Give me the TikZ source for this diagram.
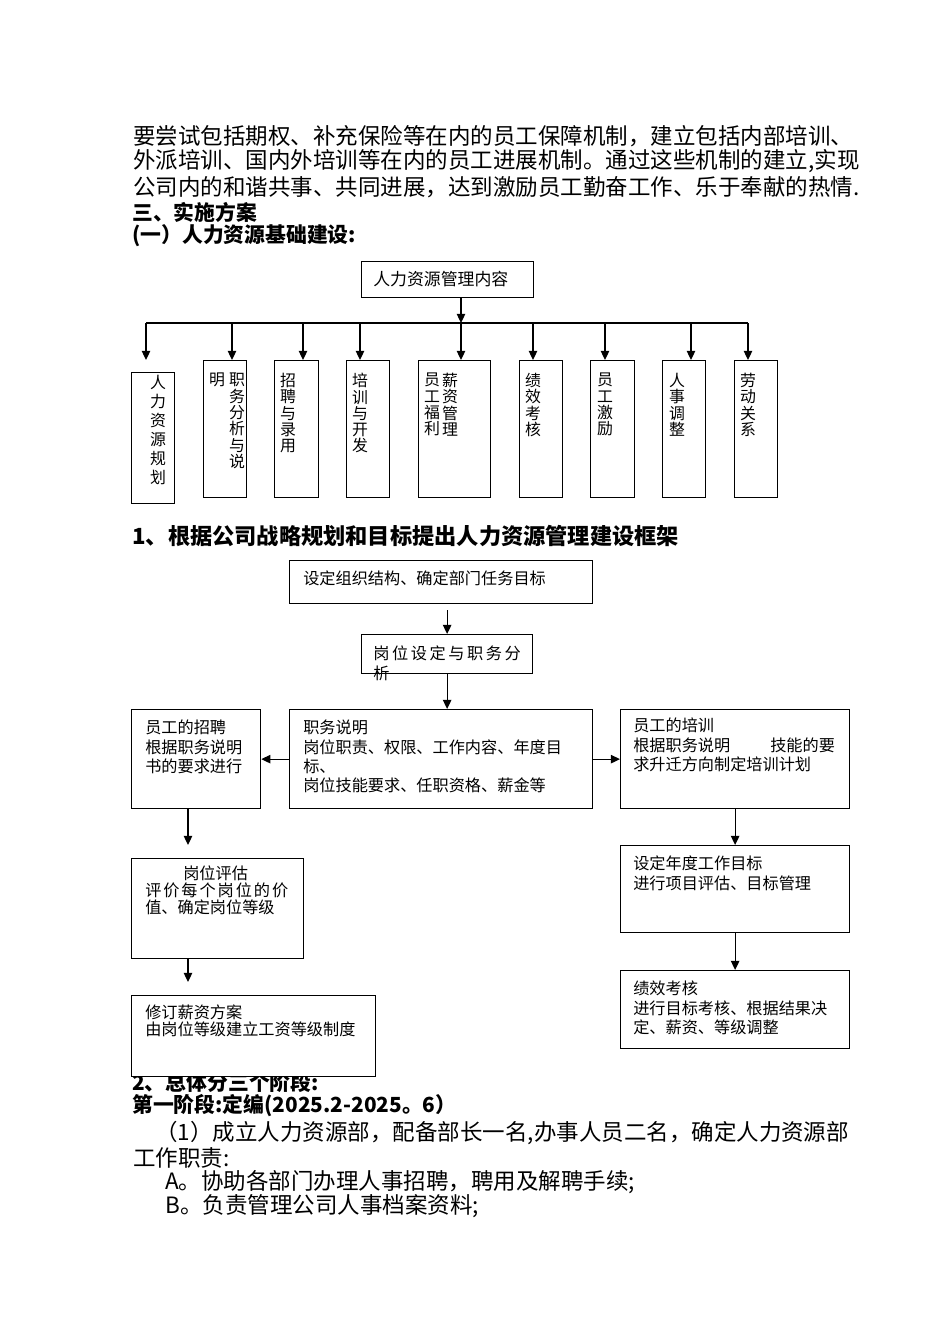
\documentclass[tikz,border=0pt]{standalone}
\usepackage{fontspec}
\setmainfont{Noto Sans CJK SC}
\usetikzlibrary{arrows.meta}
\newlength{\pxu}
\setlength{\pxu}{0.025cm}

\begin{document}
\begin{tikzpicture}[x=0.025cm, y=-0.025cm,
    box/.style={draw, line width=0.9pt, inner sep=0pt, anchor=north west},
    txt/.style={inner sep=0pt, anchor=north west, align=left, font=\fontsize{11.5}{13.7}\selectfont},
    vtxt/.style={inner sep=0pt, anchor=north, align=center, font=\fontsize{11.3}{11.6}\selectfont},
    body/.style={inner sep=0pt, anchor=west, font=\fontsize{16}{16}\selectfont},
    head/.style={inner sep=0pt, anchor=west, font=\fontsize{14.8}{15}\selectfont\bfseries},
    arr/.style={line width=0.9pt, -{Triangle[length=6.5pt, width=6pt]}}]
    \fill[white] (0,0) rectangle (950,1344);
    \useasboundingbox (0,0) rectangle (950,1344);
    % Text above
    \node[body] (l1) at (133,136) {要尝试包括期权、补充保险等在内的员工保障机制，建立包括内部培训、};
    \node[body] (l2) at (133,161) {外派培训、国内外培训等在内的员工进展机制。通过这些机制的建立,实现};
    \node[body] (l3) at (133,187) {公司内的和谐共事、共同进展，达到激励员工勤奋工作、乐于奉献的热情.};
    \node[head] (h1) at (132,212) {三、实施方案};
    \node[head] (h2) at (132,236) {(一）人力资源基础建设:};
    % Top box and bus
    \node[box, minimum width=172\pxu, minimum height=36\pxu] (rl) at (361,261) {};
    \node[txt, anchor=west, font=\fontsize{12}{14}\selectfont] (rltx) at (373,279) {人力资源管理内容};
    \coordinate (hub) at (461,323);
    \coordinate (bl) at (146,323);
    \coordinate (br) at (748,323);
    \draw[line width=0.9pt] (bl) -- (br);
    \draw[arr] (rl.south -| hub) -- (hub);
    % Column boxes
    \node[box, minimum width=43\pxu, minimum height=131\pxu] (gh) at (131,372) {};
    \foreach \bx/\bw/\nm in {203/43/zw, 274/44/zp, 346/43/px, 418/72/xz, 519/43/jx, 590/44/jl, 662/43/tz, 734/43/gx}
        \node[box, minimum width=\bw\pxu, minimum height=137\pxu] (\nm) at (\bx,360) {};
    \foreach \ax/\nm in {146/gh, 232/zw, 303/zp, 360/px, 461/xz, 533/jx, 605/jl, 691/tz, 748/gx} {
        \coordinate (b-\nm) at (\ax,323);
        \draw[arr] (b-\nm) -- (b-\nm |- zw.north);
    }
    \node[vtxt, font=\fontsize{11.3}{13.5}\selectfont] (ghtx) at (158,375) {人\\力\\资\\源\\规\\划};
    \node[vtxt] (zwtx) at (237,373) {职\\务\\分\\析\\与\\说};
    \node[vtxt] (zwtx2) at (217,373) {明};
    \node[vtxt] (zptx) at (288,373) {招\\聘\\与\\录\\用};
    \node[vtxt] (pxtx) at (360,373) {培\\训\\与\\开\\发};
    \node[vtxt] (xztx) at (450,373) {薪\\资\\管\\理};
    \node[vtxt] (xztx2) at (432,373) {员\\工\\福\\利};
    \node[vtxt] (jxtx) at (533,373) {绩\\效\\考\\核};
    \node[vtxt] (jltx) at (605,373) {员\\工\\激\\励};
    \node[vtxt] (tztx) at (677,373) {人\\事\\调\\整};
    \node[vtxt] (gxtx) at (748,373) {劳\\动\\关\\系};
    % Second heading
    \node[head, font=\fontsize{15.8}{16}\selectfont\bfseries] (h3) at (132,536) {1、根据公司战略规划和目标提出人力资源管理建设框架};
    % Framework boxes
    \node[box, minimum width=303\pxu, minimum height=43\pxu] (b1) at (289,560) {};
    \node[txt, anchor=west] (b1tx) at (303,578) {设定组织结构、确定部门任务目标};
    \node[box, minimum width=171\pxu, minimum height=39\pxu] (b2) at (361,634) {};
    \node[txt, font=\fontsize{11.5}{14.2}\selectfont\addfontfeatures{LetterSpace=16}] (b2tx) at (373,646) {岗位设定与职务分\\析};
    \node[box, minimum width=303\pxu, minimum height=99\pxu] (zm) at (289,709) {};
    \node[txt] (zmtx) at (303,720) {职务说明\\岗位职责、权限、工作内容、年度目\\标、\\岗位技能要求、任职资格、薪金等};
    \node[box, minimum width=129\pxu, minimum height=99\pxu] (zp2) at (131,709) {};
    \node[txt] (zp2tx) at (145,720) {员工的招聘\\根据职务说明\\书的要求进行};
    \node[box, minimum width=229\pxu, minimum height=99\pxu] (px2) at (620,709) {};
    \node[txt] (px2tx) at (633,718) {员工的培训\\根据职务说明\hspace{1cm}技能的要\\求升迁方向制定培训计划};
    \node[box, minimum width=229\pxu, minimum height=87\pxu] (nd) at (620,845) {};
    \node[txt] (ndtx) at (633,856) {设定年度工作目标\\进行项目评估、目标管理};
    \node[box, minimum width=229\pxu, minimum height=78\pxu] (jx2) at (620,970) {};
    \node[txt] (jx2tx) at (633,981) {绩效考核\\进行目标考核、根据结果决\\定、薪资、等级调整};
    \node[box, minimum width=172\pxu, minimum height=100\pxu] (gp) at (131,858) {};
    \node[txt, font=\fontsize{11.5}{12}\selectfont] (gptx) at (145,866) {\hspace*{2.35em}岗位评估\\{\addfontfeatures{LetterSpace=12}评价每个岗位的价}\\值、确定岗位等级};
    % Arrows
    \draw[arr, shorten <=6\pxu] (b1.south -| b2.north) -- (b2.north);
    \draw[arr] (b2.south) -- (b2.south |- zm.north);
    \draw[arr] (zm.west) -- (zm.west -| zp2.east);
    \draw[arr] (zm.east) -- (zm.east -| px2.west);
    \draw[arr] (px2.south) -- (nd.north);
    \draw[arr] (nd.south) -- (jx2.north);
    \coordinate (lc) at (188,0);
    \draw[arr, shorten >=13\pxu] (zp2.south -| lc) -- (gp.north -| lc);
    % Text below
    \node[head] (h4) at (132,1082) {2、总体分三个阶段:};
    \node[head] (h5) at (132,1106) {第一阶段:定编(2025.2-2025。6）};
    \node[body] (l4) at (155,1133) {（1）成立人力资源部，配备部长一名,办事人员二名，确定人力资源部};
    \node[body] (l5) at (133,1158) {工作职责:};
    \node[body] (l6) at (165,1182) {A。协助各部门办理人事招聘，聘用及解聘手续;};
    \node[body] (l7) at (165,1206) {B。负责管理公司人事档案资料;};
    % Last box over the heading
    \node[box, fill=white, minimum width=244\pxu, minimum height=81\pxu] (xd) at (131,995) {};
    \node[txt, font=\fontsize{11.5}{11.6}\selectfont] (xdtx) at (145,1005) {修订薪资方案\\由岗位等级建立工资等级制度};
    \draw[arr, shorten >=13\pxu] (gp.south -| lc) -- (xd.north -| lc);
\end{tikzpicture}
\end{document}
